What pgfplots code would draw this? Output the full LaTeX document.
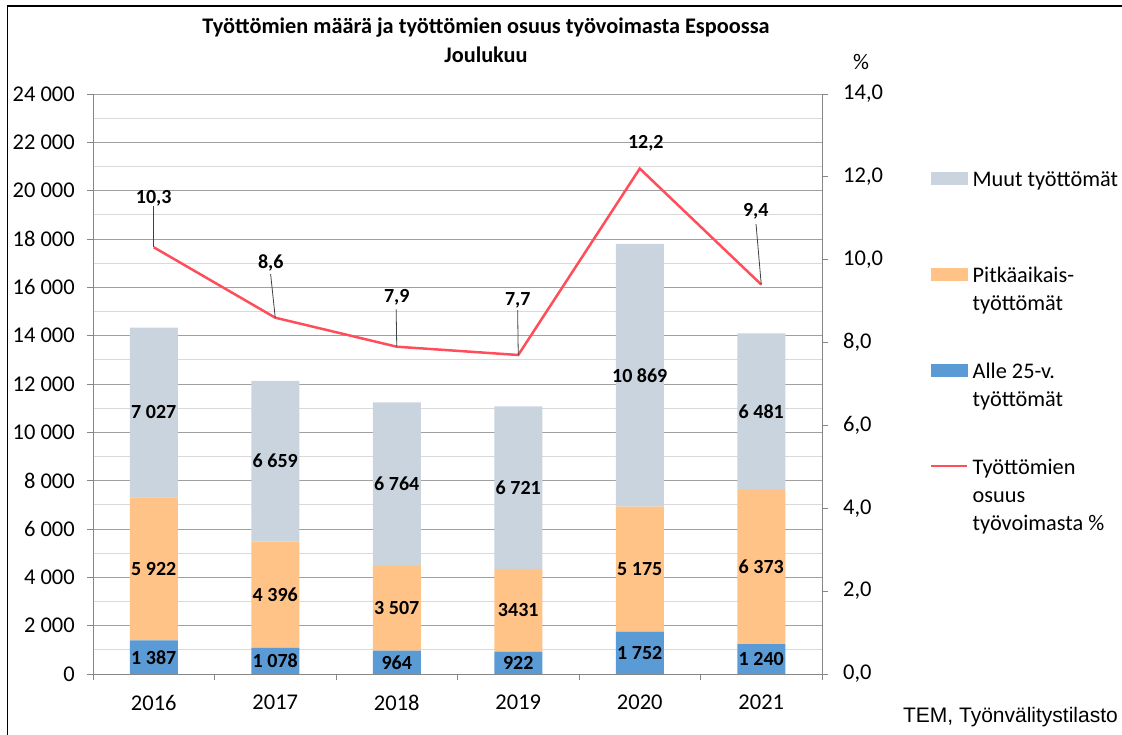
\documentclass[border=0pt]{standalone}
\usepackage{fontspec}
\setmainfont{Carlito}
\newfontfamily\arialfont{Liberation Sans}
\usepackage{pgfplots}
\pgfplotsset{compat=1.18}
\definecolor{cMuut}{RGB}{202,212,222}
\definecolor{cPitka}{RGB}{255,194,135}
\definecolor{cAlle}{RGB}{91,155,213}
\definecolor{cLine}{RGB}{255,77,90}
\definecolor{cAxis}{RGB}{134,134,134}
\definecolor{cMaj}{RGB}{160,160,160}
\definecolor{cMin}{RGB}{217,217,217}
\newcommand{\legtext}[1]{\parbox[t]{190pt}{\raggedright #1}}
\begin{document}
\begin{tikzpicture}[x=1pt,y=1pt]
\useasboundingbox (0,0) rectangle (1122,735);
\draw[line width=1.2pt] (7.5,-5) -- (7.5,729) -- (1130,729);
\node[font=\bfseries\fontsize{22.3}{26}\selectfont] at (486,707) {Työttömien määrä ja työttömien osuus työvoimasta Espoossa};
\node[font=\bfseries\fontsize{22.3}{26}\selectfont] at (486,680) {Joulukuu};
\node[font=\fontsize{22.3}{26}\selectfont] at (861,673) {\%};
\node[font=\arialfont\fontsize{21}{25}\selectfont, anchor=east, inner sep=0pt] at (1118,18) {TEM, Työnvälitystilasto};

\begin{axis}[
  at={(93pt,61pt)}, anchor=south west,
  scale only axis, width=729pt, height=580pt,
  clip=false,
  ybar stacked, bar width=48pt,
  xmin=-0.5, xmax=5.5, ymin=0, ymax=24000,
  axis x line*=bottom, axis y line*=left,
  axis line style={draw=cAxis, line width=0.8pt},
  xtick={0,...,5}, xticklabels={2016,2017,2018,2019,2020,2021},
  minor xtick={-0.5,0.5,1.5,2.5,3.5,4.5,5.5},
  major x tick style={draw=none},
  minor x tick style={draw=cAxis, line width=0.8pt},
  ytick={0,2000,...,24000},
  minor ytick={1000,3000,...,23000},
  minor y tick style={draw=none},
  y tick style={draw=cAxis, line width=0.8pt},
  ymajorgrids, yminorgrids,
  major grid style={draw=cMaj, line width=0.8pt},
  minor grid style={draw=cMin, line width=1pt},
  tick align=outside, major tick length=6pt, minor tick length=6pt,
  tick label style={font=\fontsize{22.5}{27}\selectfont, inner sep=0pt},
  xticklabel style={yshift=-15pt},
  yticklabel style={xshift=-12pt},
  scaled y ticks=false,
  /pgf/number format/assume math mode=true,
  /pgf/number format/1000 sep={\ },
]
\addplot[fill=cAlle, draw=none] coordinates {(0,1387)(1,1078)(2,964)(3,922)(4,1752)(5,1240)};
\addplot[fill=cPitka, draw=none] coordinates {(0,5922)(1,4396)(2,3507)(3,3431)(4,5175)(5,6373)};
\addplot[fill=cMuut, draw=none] coordinates {(0,7027)(1,6659)(2,6764)(3,6721)(4,10869)(5,6481)};
\end{axis}

\begin{axis}[
  at={(93pt,61pt)}, anchor=south west,
  scale only axis, width=729pt, height=580pt,
  clip=false,
  xmin=-0.5, xmax=5.5, ymin=0, ymax=14,
  axis x line=none, axis y line*=right,
  axis line style={draw=cAxis, line width=0.8pt},
  ytick={0,2,...,14},
  y tick style={draw=cAxis, line width=0.8pt},
  tick align=outside, major tick length=6pt,
  tick label style={font=\fontsize{22.5}{27}\selectfont, inner sep=0pt},
  yticklabel style={xshift=15pt},
  /pgf/number format/assume math mode=true,
  /pgf/number format/.cd, fixed, fixed zerofill, precision=1, use comma,
  /pgfplots/.cd,
  legend style={at={(1.1481,0.869)}, anchor=north west, draw=none, fill=none,
    inner sep=0pt, row sep=0pt,
    nodes={inner sep=0pt, text height=16pt, text depth=80pt},
    cells={anchor=base west, font=\fontsize{22.3}{28}\selectfont},
    /tikz/every odd column/.append style={column sep=4pt}},
]
\addlegendimage{legend image code/.code={\fill[cMuut] (0pt,2pt) rectangle (36pt,14pt);}}
\addlegendentry{\legtext{Muut työttömät}}
\addlegendimage{legend image code/.code={\fill[cPitka] (0pt,2pt) rectangle (36pt,14pt);}}
\addlegendentry{\legtext{Pitkäaikais-\\työttömät}}
\addlegendimage{legend image code/.code={\fill[cAlle] (0pt,2pt) rectangle (36pt,14pt);}}
\addlegendentry{\legtext{Alle 25-v.\\työttömät}}
\addplot[color=cLine, line width=2.5pt, mark=none,
  legend image code/.code={\draw[cLine, line width=2.5pt] (0pt,8pt) -- (36pt,8pt);}]
  coordinates {(0,10.3)(1,8.6)(2,7.9)(3,7.7)(4,12.2)(5,9.4)};
\addlegendentry{\legtext{Työttömien\\osuus\\työvoimasta \%}}
\tikzset{vlbl/.style={font=\bfseries\fontsize{20}{24}\selectfont, inner sep=0pt},
  lead/.style={draw=black!75, line width=0.8pt}}
% bar segment labels (right-axis units: value*14/24000, at segment centres)
\node[vlbl] at (axis cs:0,0.4045) {1 387};
\node[vlbl] at (axis cs:0,2.5363) {5 922};
\node[vlbl] at (axis cs:0,6.3131) {7 027};
\node[vlbl] at (axis cs:1,0.3144) {1 078};
\node[vlbl] at (axis cs:1,1.9110) {4 396};
\node[vlbl] at (axis cs:1,5.1354) {6 659};
\node[vlbl] at (axis cs:2,0.2812) {964};
\node[vlbl] at (axis cs:2,1.5852) {3 507};
\node[vlbl] at (axis cs:2,4.5809) {6 764};
\node[vlbl] at (axis cs:3,0.2689) {922};
\node[vlbl] at (axis cs:3,1.5385) {3431};
\node[vlbl] at (axis cs:3,4.4995) {6 721};
\node[vlbl] at (axis cs:4,0.5110) {1 752};
\node[vlbl] at (axis cs:4,2.5314) {5 175};
\node[vlbl] at (axis cs:4,7.2109) {10 869};
\node[vlbl] at (axis cs:5,0.3617) {1 240};
\node[vlbl] at (axis cs:5,2.5821) {6 373};
\node[vlbl] at (axis cs:5,6.3312) {6 481};
% line labels with leader lines
\draw[lead] (axis cs:0,10.3) -- (axis cs:0,11.30);
\draw[lead] (axis cs:1,8.6) -- (axis cs:0.962,9.65);
\draw[lead] (axis cs:2,7.9) -- (axis cs:1.995,8.80);
\draw[lead] (axis cs:3,7.7) -- (axis cs:2.995,8.78);
\draw[lead] (axis cs:5,9.4) -- (axis cs:4.957,10.86);
\node[vlbl] at (axis cs:0,11.49) {10,3};
\node[vlbl] at (axis cs:0.963,9.92) {8,6};
\node[vlbl] at (axis cs:2,9.10) {7,9};
\node[vlbl] at (axis cs:2.996,9.03) {7,7};
\node[vlbl] at (axis cs:4.05,12.82) {12,2};
\node[vlbl] at (axis cs:4.955,11.18) {9,4};
\end{axis}
\end{tikzpicture}
\end{document}
